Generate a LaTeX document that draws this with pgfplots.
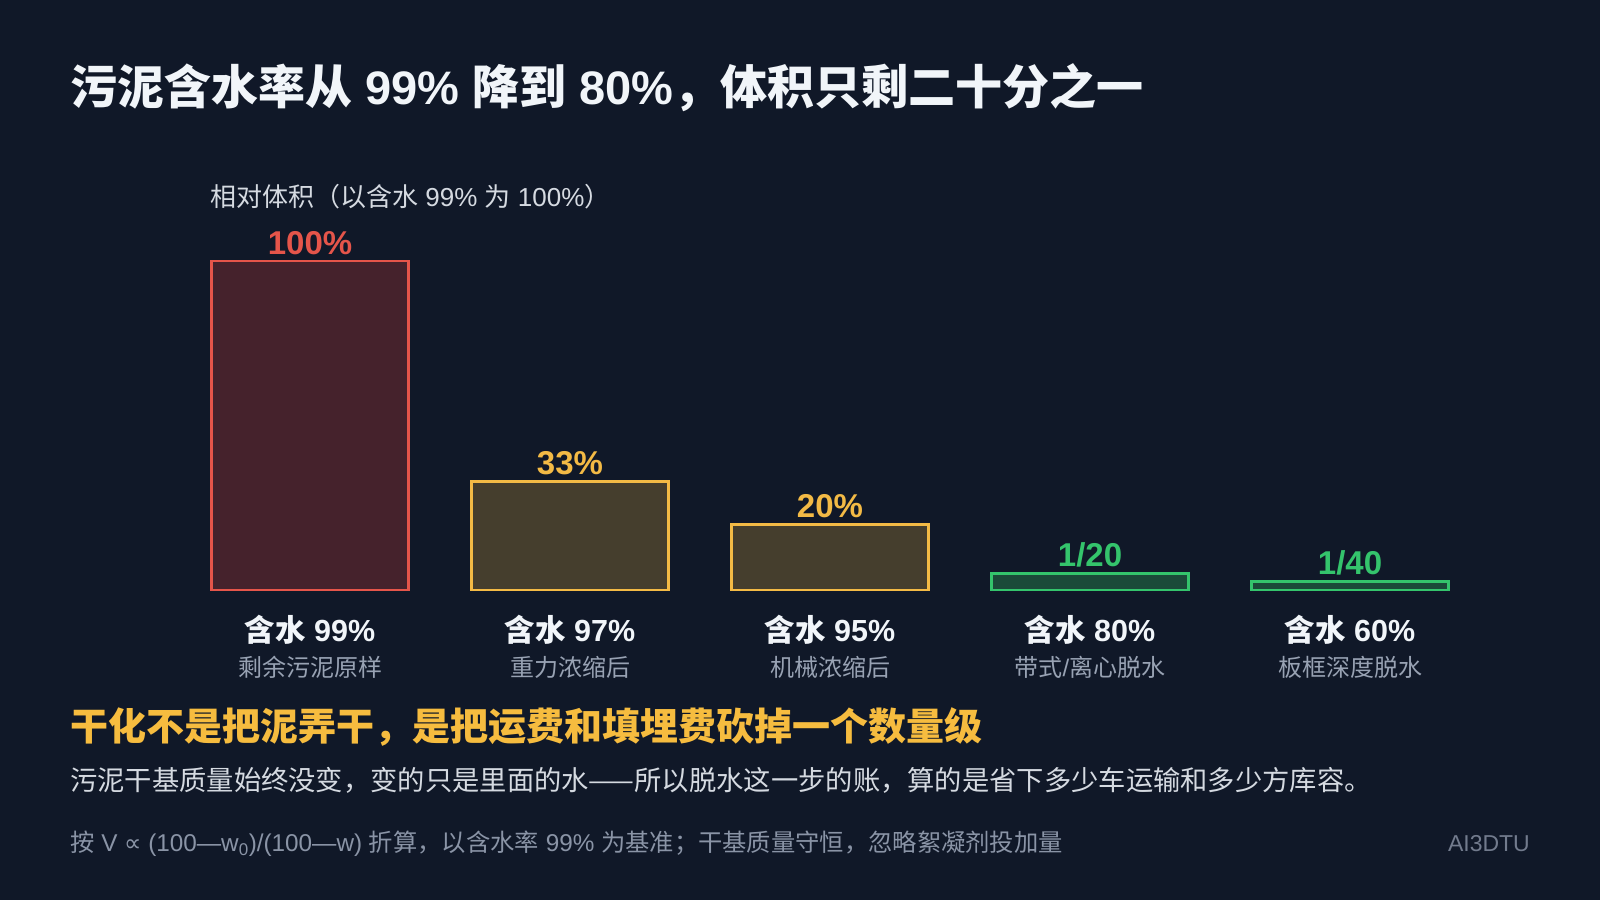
\documentclass[border=0pt]{standalone}
\usepackage{pgfplots}
\pgfplotsset{compat=1.18}
\usepackage{fontspec}
\setmainfont{Noto Sans CJK SC}
\newfontfamily\latf{Liberation Sans}
\newfontfamily\dejav{DejaVu Sans}
\newcommand{\lat}[1]{{\latf #1}}
\definecolor{bg}{HTML}{101828}
\definecolor{redE}{HTML}{E5554A}
\definecolor{redF}{HTML}{45222C}
\definecolor{yelE}{HTML}{F3BA45}
\definecolor{yelF}{HTML}{453E2D}
\definecolor{grnE}{HTML}{34C46C}
\definecolor{grnF}{HTML}{1B4A39}
\definecolor{titleC}{HTML}{F1F5F9}
\definecolor{subC}{HTML}{D5DAE1}
\definecolor{grayC}{HTML}{98A2B3}
\definecolor{footC}{HTML}{8A94A6}
\definecolor{headY}{HTML}{F6BC3F}
\newcommand{\fs}[1]{\fontsize{#1bp}{#1bp}\selectfont}
\begin{document}
\begin{tikzpicture}[x=1bp,y=1bp]
\fill[bg] (0,0) rectangle (1600,900);
% title
\node[anchor=west,text=titleC,font=\fs{47}\bfseries,inner sep=0] at (70,812) {污泥含水率从\lat{ 99\% }降到\lat{ 80\%}，体积只剩二十分之一};
\node[anchor=west,text=subC,font=\fs{26},inner sep=0] at (210,703) {相对体积（以含水\lat{ 99\% }为\lat{ 100\%}）};
\begin{axis}[
  at={(310bp,310bp)}, anchor=origin,
  scale only axis, width=1300bp, height=329bp,
  xmin=-0.5, xmax=4.5, ymin=0, ymax=100,
  axis lines=none, clip=false,
  ybar, bar width=197bp, bar shift=0pt,
  nodes near coords, point meta=explicit symbolic,
  every node near coord/.append style={font=\fs{33}\latf\bfseries, anchor=south, yshift=3bp, inner sep=2bp},
]
\addplot[draw=redE, fill=redF, line width=2.8bp, nodes near coords style={text=redE}] coordinates {(0,100) [100\%]};
\addplot[draw=yelE, fill=yelF, line width=2.8bp, nodes near coords style={text=yelE}] coordinates {(1,33) [33\%]};
\addplot[draw=yelE, fill=yelF, line width=2.8bp, nodes near coords style={text=yelE}] coordinates {(2,20) [20\%]};
\addplot[draw=grnE, fill=grnF, line width=2.8bp, nodes near coords style={text=grnE}] coordinates {(3,5) [1/20]};
\addplot[draw=grnE, fill=grnF, line width=2.8bp, nodes near coords style={text=grnE}] coordinates {(4,2.5) [1/40]};
\node[text=titleC,font=\fs{30.5}\bfseries,inner sep=0] at (axis cs:0,0) [yshift=-40bp] {含水\lat{ 99\%}};
\node[text=titleC,font=\fs{30.5}\bfseries,inner sep=0] at (axis cs:1,0) [yshift=-40bp] {含水\lat{ 97\%}};
\node[text=titleC,font=\fs{30.5}\bfseries,inner sep=0] at (axis cs:2,0) [yshift=-40bp] {含水\lat{ 95\%}};
\node[text=titleC,font=\fs{30.5}\bfseries,inner sep=0] at (axis cs:3,0) [yshift=-40bp] {含水\lat{ 80\%}};
\node[text=titleC,font=\fs{30.5}\bfseries,inner sep=0] at (axis cs:4,0) [yshift=-40bp] {含水\lat{ 60\%}};
\node[text=grayC,font=\fs{24},inner sep=0] at (axis cs:0,0) [yshift=-77bp] {剩余污泥原样};
\node[text=grayC,font=\fs{24},inner sep=0] at (axis cs:1,0) [yshift=-77bp] {重力浓缩后};
\node[text=grayC,font=\fs{24},inner sep=0] at (axis cs:2,0) [yshift=-77bp] {机械浓缩后};
\node[text=grayC,font=\fs{24},inner sep=0] at (axis cs:3,0) [yshift=-77bp] {带式\lat{/}离心脱水};
\node[text=grayC,font=\fs{24},inner sep=0] at (axis cs:4,0) [yshift=-77bp] {板框深度脱水};
\end{axis}
\node[anchor=west,text=headY,font=\fs{38}\bfseries,inner sep=0] at (70,173) {干化不是把泥弄干，是把运费和填埋费砍掉一个数量级};
\node[anchor=west,text=subC,font=\fs{27.3},inner sep=0] at (70,120) {污泥干基质量始终没变，变的只是里面的水——所以脱水这一步的账，算的是省下多少车运输和多少方库容。};
\node[anchor=west,text=footC,font=\fs{24.3},inner sep=0] at (70,56) {按\lat{ V }{\dejav ∝}\lat{ (100—w\textsubscript{0})/(100—w) }折算，以含水率\lat{ 99\% }为基准；干基质量守恒，忽略絮凝剂投加量};
\node[anchor=east,text=footC!80!bg,font=\fs{23}\latf,inner sep=0] at (1530,56) {AI3DTU};
\end{tikzpicture}
\end{document}
